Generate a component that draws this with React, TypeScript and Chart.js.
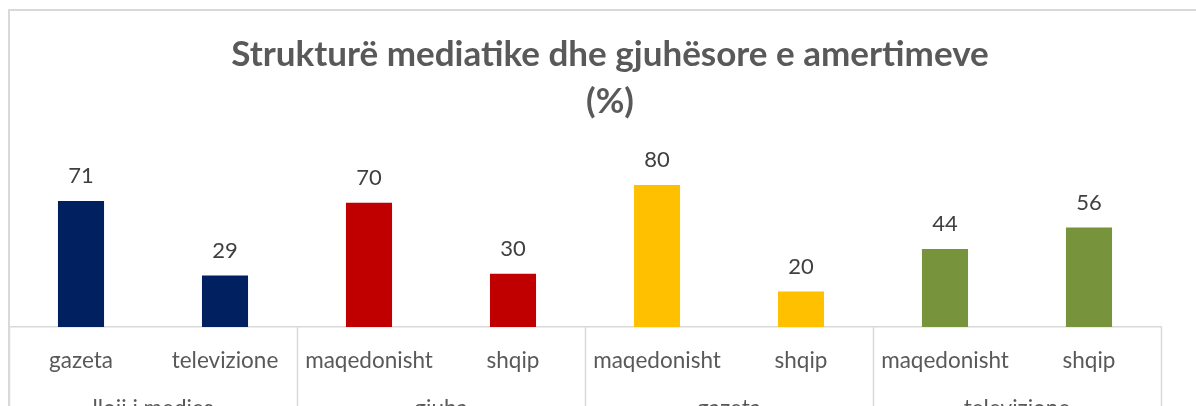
import React, { useEffect, useRef } from "react";
import { Chart, registerables } from "chart.js";

Chart.register(...registerables);

const categories = ["gazeta", "televizione", "maqedonisht", "shqip", "maqedonisht", "shqip", "maqedonisht", "shqip"];
const groups = ["lloji i medies", "gjuha", "gazeta", "televizione"];
const values = [71, 29, 70, 30, 80, 20, 44, 56];
const groupColors = ["#002060", "#C00000", "#FFC000", "#77933C"];
const titleLines = ["Strukturë mediatike dhe gjuhësore e amertimeve", "(%)"];

const CW = 1260;
const CH = 460;
const BASE_Y = 327;
const TITLE_SIZE = 35;

const decorPlugin = {
  id: "decor",
  afterDraw(chart: any) {
    const ctx = chart.ctx;
    const x = chart.scales.x;
    const area = chart.chartArea;
    ctx.save();
    // chart frame
    ctx.strokeStyle = "#d9d9d9";
    ctx.lineWidth = 2;
    ctx.strokeRect(9, 10, 1202, 600);
    // multi-level dividers and group labels
    const n = categories.length;
    const catW = (x.right - x.left) / n;
    ctx.lineWidth = 1.5;
    for (let g = 0; g <= groups.length; g++) {
      const px = Math.round(x.left + g * 2 * catW) + 0.5;
      ctx.beginPath();
      ctx.moveTo(px, area.bottom);
      ctx.lineTo(px, CH);
      ctx.stroke();
    }
    ctx.fillStyle = "#595959";
    ctx.font = "22.5px Lato";
    ctx.textAlign = "center";
    ctx.textBaseline = "middle";
    groups.forEach((gname, g) => {
      const cx = x.left + (g * 2 + 1) * catW;
      ctx.fillText(gname, cx, 409);
    });
    // data labels
    const meta = chart.getDatasetMeta(0);
    ctx.fillStyle = "#404040";
    ctx.font = "22px Lato";
    meta.data.forEach((bar: any, i: number) => {
      ctx.fillText(String(values[i]), bar.x, bar.y - 25);
    });
    ctx.restore();
  },
};

export default function App() {
  const ref = useRef<HTMLCanvasElement>(null);
  useEffect(() => {
    if (!ref.current) return;
    const chart = new Chart(ref.current, {
      type: "bar",
      data: {
        labels: categories,
        datasets: [
          {
            data: values,
            backgroundColor: values.map((_, i) => groupColors[Math.floor(i / 2)]),
            barPercentage: 0.32,
            categoryPercentage: 1,
          },
        ],
      },
      options: {
        animation: false,
        responsive: false,
        devicePixelRatio: 1,
        layout: { padding: { left: 9, right: CW - 1211, top: 0, bottom: 0 } },
        plugins: {
          legend: { display: false },
          tooltip: { enabled: false },
          title: {
            display: true,
            text: titleLines,
            color: "#595959",
            font: { family: "Lato", size: TITLE_SIZE, weight: "bold", lineHeight: 47 / TITLE_SIZE },
            padding: { top: 31, bottom: 24.5 },
          },
        },
        scales: {
          x: {
            grid: { display: false, drawTicks: false },
            border: { display: true, color: "#d9d9d9", width: 1.5 },
            ticks: {
              color: "#595959",
              font: { family: "Lato", size: 22.5 },
              padding: 20,
              maxRotation: 0,
              autoSkip: false,
            },
            afterFit: (s: any) => {
              s.height = CH - BASE_Y;
            },
          },
          y: {
            position: "right",
            min: 0,
            max: 100,
            grid: { display: false, drawTicks: false },
            border: { display: false },
            ticks: { display: false },
            afterFit: (s: any) => {
              s.width = 50;
            },
          },
        },
      },
      plugins: [decorPlugin],
    });
    return () => chart.destroy();
  }, []);
  return (
    <div style={{ position: "fixed", left: 0, top: 0, width: 1196, height: 406, overflow: "hidden", background: "#fff" }}>
      <canvas ref={ref} width={CW} height={CH} style={{ position: "absolute", left: 0, top: 0 }} />
    </div>
  );
}
